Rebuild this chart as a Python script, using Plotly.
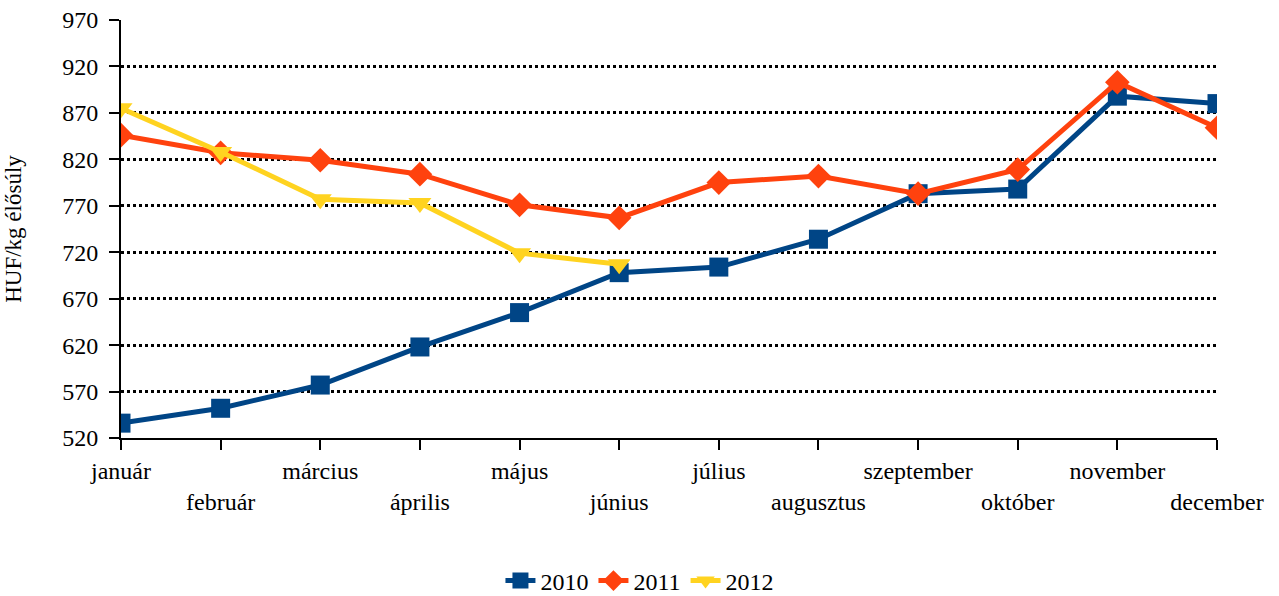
import plotly.graph_objects as go

months = ["január", "február", "március", "április", "május", "június",
          "július", "augusztus", "szeptember", "október", "november", "december"]
v2010 = [536, 552, 577, 618, 655, 698, 704, 734, 783, 788, 888, 880]
v2011 = [846, 827, 819, 804, 771, 757, 795, 802, 783, 809, 903, 854]
v2012 = [875, 828, 777, 773, 719, 707]
yticks = [520, 570, 620, 670, 720, 770, 820, 870, 920, 970]

font = "Liberation Serif"
ticktext = [m if i % 2 == 0 else "<br>" + m for i, m in enumerate(months)]

fig = go.Figure()
fig.add_trace(go.Scatter(x=months, y=v2010, name="2010", mode="lines+markers",
                         line=dict(color="#004586", width=5),
                         marker=dict(symbol="square", size=19, color="#004586")))
fig.add_trace(go.Scatter(x=months, y=v2011, name="2011", mode="lines+markers",
                         line=dict(color="#ff420e", width=5),
                         marker=dict(symbol="diamond", size=19, color="#ff420e")))
fig.add_trace(go.Scatter(x=months[:len(v2012)], y=v2012, name="2012", mode="lines+markers",
                         line=dict(color="#ffd320", width=5),
                         marker=dict(symbol="triangle-down", size=20, color="#ffd320")))

fig.update_layout(
    width=1279, height=596,
    margin=dict(l=121, r=62, t=20, b=158, autoexpand=False),
    paper_bgcolor="white", plot_bgcolor="white",
    font=dict(family=font, size=24, color="black"),
    showlegend=True,
    legend=dict(orientation="h", x=0.4735, xanchor="center", y=-0.342, yanchor="middle",
                font=dict(family=font, size=24), itemwidth=30, tracegroupgap=0),
    xaxis=dict(type="category", range=[0, 11], tickmode="array", tickvals=months,
               ticktext=ticktext, showgrid=False, showline=True, linecolor="black",
               linewidth=2, ticks="outside", ticklen=10, tickwidth=2, tickcolor="black",
               tickangle=0, zeroline=False, tickfont=dict(size=24), automargin=False),
    yaxis=dict(range=[520, 970], tickmode="array", tickvals=yticks,
               showgrid=True, gridcolor="black", griddash="dot", gridwidth=2.5,
               showline=True, linecolor="black", linewidth=2, ticks="outside",
               ticklen=10, tickwidth=2, tickcolor="black", zeroline=False,
               ticklabelstandoff=6, tickfont=dict(size=24), automargin=False,
               title=dict(text="HUF/kg élősúly", font=dict(family=font, size=23), standoff=34)),
)

fig.write_html("out.html", config={"displayModeBar": False},
               post_script="document.body.style.margin='0';")
